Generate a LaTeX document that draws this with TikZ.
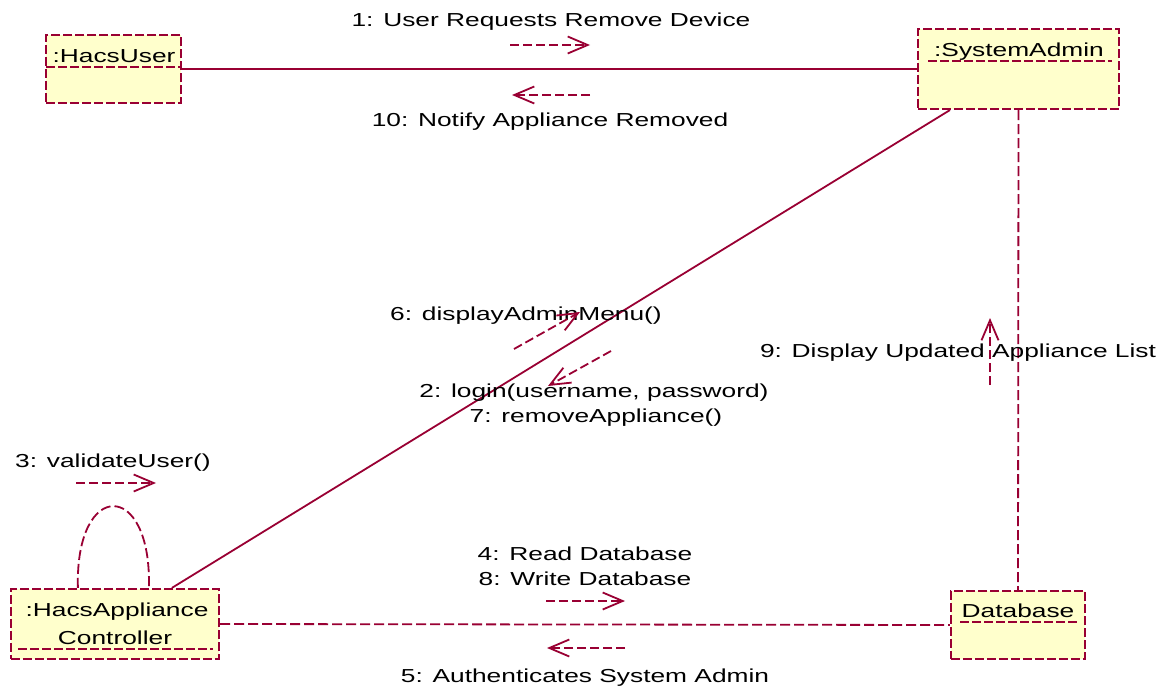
\documentclass[tikz,border=0pt]{standalone}
\usepackage{fontspec}
\setmainfont[FakeStretch=1.4]{Liberation Sans}
\usetikzlibrary{arrows.meta,calc}
\definecolor{umlred}{RGB}{153,0,51}
\definecolor{umlfill}{RGB}{255,255,204}
\tikzset{
  objbox/.style={draw=umlred, fill=umlfill, line width=2.2bp, dash pattern=on 9bp off 3bp, rectangle, inner sep=0pt},
  uline/.style={draw=umlred, line width=2bp, dash pattern=on 9bp off 3bp},
  link/.style={draw=umlred, line width=1.8bp},
  dlink/.style={draw=umlred, line width=1.8bp, dash pattern=on 10bp off 4bp},
  msg/.style={draw=umlred, line width=1.8bp, dash pattern=on 9bp off 4bp, -{Straight Barb[length=20bp,width=17bp,line width=1.8bp]}},
  lbl/.style={anchor=base, inner sep=0pt, font=\fontsize{18.8bp}{25bp}\selectfont, text=black},
}
\begin{document}
\begin{tikzpicture}[x=1bp,y=-1bp]
\useasboundingbox (0,0) rectangle (1167,687);
% boxes
\node[objbox, minimum width=135bp, minimum height=68bp] (hu) at (113.5,69) {};
\node[objbox, minimum width=201bp, minimum height=80bp] (sa) at (1018.5,69) {};
\node[objbox, minimum width=208bp, minimum height=70bp] (ctrl) at (115,624) {};
\node[objbox, minimum width=134bp, minimum height=68bp] (db) at (1018,625) {};
% box texts
\node[lbl] (hut) at (114,63) {:HacsUser};
\draw[uline] (46,67) -- (181,67);
\node[lbl] (sat) at (1019,57) {:SystemAdmin};
\draw[uline] (928,61) -- (1112,61);
\node[lbl] (ct1) at (117,616) {:HacsAppliance};
\node[lbl] (ct2) at (115,644) {Controller};
\draw[uline] (18,649) -- (213,649);
\node[lbl] (dbt) at (1018,617) {Database};
\draw[uline] (960,622) -- (1080,622);
% connectors
\draw[link] (hu.east) -- (sa.west);
\draw[link] ($(sa.south west)+(33,0)$) -- ($(ctrl.north west)+(162,0)$);
\draw[dlink] (sa.south) -- (db.north);
\draw[dlink] (ctrl.east) -- (db.west);
\draw[dlink] ($(ctrl.north west)+(68,0)$) .. controls ($(ctrl.north west)+(65,-109)$) and ($(ctrl.north west)+(142,-109)$) .. ($(ctrl.north west)+(139,0)$);
% messages
\node[lbl] (m1) at (551,27) {1: User Requests Remove Device};
\draw[msg] (510,45) -- (590,45);
\node[lbl] (m10) at (550,127) {10: Notify Appliance Removed};
\draw[msg] (590,95) -- (512,95);
\node[lbl] (m6) at (526,320) {6: displayAdminMenu()};
\draw[msg] (514,349) -- (580,312);
\draw[msg] (611,351) -- (548,386);
\node[lbl] (m2) at (594,397) {2: login(username, password)};
\node[lbl] (m7) at (596,422) {7: removeAppliance()};
\node[lbl] (m3) at (113,467) {3: validateUser()};
\draw[msg] (76,483) -- (156,483);
\node[lbl] (m9) at (958,357) {9: Display Updated Appliance List};
\draw[msg] (990,385) -- (990,318);
\node[lbl] (m4) at (585,560) {4: Read Database};
\node[lbl] (m8) at (585,585) {8: Write Database};
\draw[msg] (546,601) -- (625,601);
\node[lbl] (m5) at (585,682) {5: Authenticates System Admin};
\draw[msg] (625,648) -- (547,648);
\end{tikzpicture}
\end{document}
